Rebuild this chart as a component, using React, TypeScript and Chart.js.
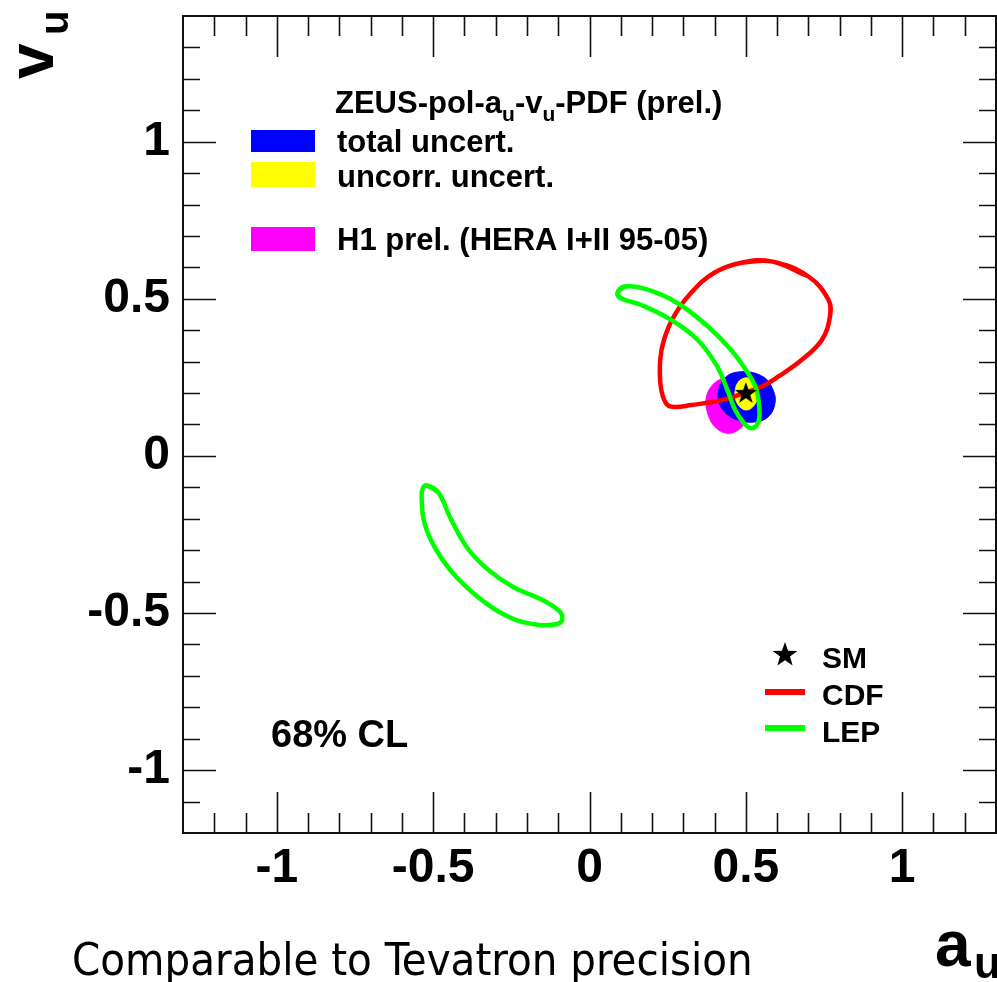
import React, { useEffect, useRef } from "react";
import { Chart, registerables } from "chart.js";

Chart.register(...registerables);

// ---- axes ----
const X_MIN = -1.3;
const X_MAX = 1.3;
const Y_MIN = -1.2;
const Y_MAX = 1.4;
const X_TICKS = [-1, -0.5, 0, 0.5, 1];
const Y_TICKS = [-1, -0.5, 0, 0.5, 1];

// ---- contours (a_u, v_u) ----
const CDF_X = [0.582, 0.7, 0.764, 0.769, 0.743, 0.678, 0.603, 0.55, 0.502, 0.421, 0.325, 0.27, 0.245, 0.228, 0.226, 0.238, 0.27, 0.325, 0.399, 0.486, 0.582];
const CDF_Y = [0.619, 0.571, 0.497, 0.444, 0.369, 0.305, 0.252, 0.22, 0.203, 0.177, 0.162, 0.156, 0.167, 0.22, 0.305, 0.369, 0.444, 0.519, 0.583, 0.615, 0.619];

const LEP1_X = [0.089, 0.111, 0.186, 0.282, 0.379, 0.453, 0.507, 0.534, 0.544, 0.537, 0.516, 0.492, 0.466, 0.441, 0.408, 0.346, 0.261, 0.164, 0.1, 0.089];
const LEP1_Y = [0.518, 0.539, 0.529, 0.486, 0.412, 0.337, 0.263, 0.21, 0.135, 0.101, 0.088, 0.107, 0.146, 0.21, 0.286, 0.369, 0.433, 0.481, 0.502, 0.518];

const LEP2_X = [-0.521, -0.484, -0.446, -0.393, -0.328, -0.243, -0.157, -0.098, -0.087, -0.103, -0.168, -0.243, -0.328, -0.425, -0.489, -0.527, -0.537, -0.533, -0.521];
const LEP2_Y = [-0.094, -0.115, -0.195, -0.29, -0.359, -0.418, -0.455, -0.492, -0.519, -0.535, -0.537, -0.519, -0.471, -0.386, -0.301, -0.216, -0.131, -0.103, -0.094];

const TOTAL_X = [0.411, 0.432, 0.486, 0.555, 0.587, 0.593, 0.571, 0.528, 0.475, 0.432, 0.411];
const TOTAL_Y = [0.188, 0.247, 0.268, 0.252, 0.21, 0.167, 0.124, 0.108, 0.114, 0.14, 0.188];

const H1_X = [0.373, 0.386, 0.415, 0.453, 0.492, 0.511, 0.505, 0.479, 0.44, 0.402, 0.38, 0.373];
const H1_Y = [0.178, 0.216, 0.242, 0.248, 0.226, 0.178, 0.121, 0.085, 0.072, 0.092, 0.13, 0.178];

const UNCORR_X = [0.502, 0.527, 0.539, 0.527, 0.502, 0.476, 0.465, 0.476, 0.502];
const UNCORR_Y = [0.248, 0.235, 0.197, 0.162, 0.146, 0.162, 0.197, 0.235, 0.248];

const SM_X = [0.5];
const SM_Y = [0.2];

const FONT = '"Liberation Sans", Arial, Helvetica, sans-serif';

const pts = (xs: number[], ys: number[]) => xs.map((x, i) => ({ x, y: ys[i] }));
// closed loop (last point == first): wrap one neighbour on each side so the spline is smooth at the joint
const loop = (xs: number[], ys: number[]) => {
  const p = pts(xs, ys);
  const n = p.length;
  return [p[n - 2], ...p, p[1]];
};

function starPath(ctx: CanvasRenderingContext2D, cx: number, cy: number, R: number) {
  const r = R * 0.4;
  ctx.beginPath();
  for (let i = 0; i < 10; i++) {
    const ang = -Math.PI / 2 + (i * Math.PI) / 5;
    const rad = i % 2 === 0 ? R : r;
    const px = cx + rad * Math.cos(ang);
    const py = cy + rad * Math.sin(ang);
    if (i === 0) ctx.moveTo(px, py);
    else ctx.lineTo(px, py);
  }
  ctx.closePath();
}

const decorPlugin = {
  id: "decor",
  afterDraw(chart: any) {
    const { ctx, chartArea: a, scales } = chart;
    const xs = scales.x;
    const ys = scales.y;
    ctx.save();
    // frame
    ctx.strokeStyle = "#111";
    ctx.lineWidth = 2;
    ctx.strokeRect(a.left, a.top, a.right - a.left, a.bottom - a.top);
    ctx.lineWidth = 1.6;
    ctx.beginPath();
    for (let i = Math.round(X_MIN * 10) + 1; i < Math.round(X_MAX * 10); i++) {
      const px = Math.round(xs.getPixelForValue(i / 10)) + 0.5;
      const len = i % 5 === 0 ? 41 : 20;
      ctx.moveTo(px, a.bottom);
      ctx.lineTo(px, a.bottom - len);
      ctx.moveTo(px, a.top);
      ctx.lineTo(px, a.top + len);
    }
    for (let i = Math.round(Y_MIN * 10) + 1; i < Math.round(Y_MAX * 10); i++) {
      const py = Math.round(ys.getPixelForValue(i / 10)) + 0.5;
      const len = i % 5 === 0 ? 33 : 17;
      ctx.moveTo(a.left, py);
      ctx.lineTo(a.left + len, py);
      ctx.moveTo(a.right, py);
      ctx.lineTo(a.right - len, py);
    }
    ctx.stroke();

    ctx.fillStyle = "#000";
    ctx.textAlign = "left";
    ctx.textBaseline = "alphabetic";

    // title with subscripts
    let x = 335;
    const base = 113;
    const parts: [string, boolean][] = [
      ["ZEUS-pol-a", false],
      ["u", true],
      ["-v", false],
      ["u", true],
      ["-PDF (prel.)", false],
    ];
    for (const [t, sub] of parts) {
      ctx.font = sub ? `bold 21px ${FONT}` : `bold 31px ${FONT}`;
      ctx.fillText(t, x, sub ? base + 8 : base);
      x += ctx.measureText(t).width;
    }

    // legend boxes
    ctx.fillStyle = "#0000ff";
    ctx.fillRect(251, 130, 64, 22);
    ctx.fillStyle = "#ffff00";
    ctx.fillRect(251, 162, 64, 25);
    ctx.fillStyle = "#ff00ff";
    ctx.fillRect(251, 227, 64, 24);

    ctx.fillStyle = "#000";
    ctx.font = `bold 31px ${FONT}`;
    ctx.fillText("total uncert.", 337, 152);
    ctx.fillText("uncorr. uncert.", 337, 187);
    ctx.fillText("H1 prel. (HERA I+II 95-05)", 337, 250, 391);

    // 68% CL
    ctx.font = `bold 38px ${FONT}`;
    ctx.fillText("68% CL", 271, 747);

    // lower legend
    starPath(ctx, 785, 655, 13);
    ctx.fill();
    ctx.font = `bold 30px ${FONT}`;
    ctx.fillText("SM", 822, 668);
    ctx.fillText("CDF", 822, 705);
    ctx.fillText("LEP", 822, 742);
    ctx.lineWidth = 6;
    ctx.strokeStyle = "#ff0000";
    ctx.beginPath();
    ctx.moveTo(765, 692);
    ctx.lineTo(805, 692);
    ctx.stroke();
    ctx.strokeStyle = "#00ff00";
    ctx.beginPath();
    ctx.moveTo(765, 728);
    ctx.lineTo(805, 728);
    ctx.stroke();

    // axis titles
    ctx.fillStyle = "#000";
    ctx.font = `bold 64px ${FONT}`;
    ctx.fillText("a", 935, 966);
    ctx.font = `bold 44px ${FONT}`;
    ctx.fillText("u", 974, 978);

    ctx.save();
    ctx.translate(53, 79);
    ctx.rotate(-Math.PI / 2);
    ctx.font = `bold 64px ${FONT}`;
    ctx.fillText("v", 0, 0);
    ctx.font = `bold 40px ${FONT}`;
    ctx.fillText("u", 44, 15);
    ctx.restore();

    // caption
    ctx.font = `45px "DejaVu Sans Condensed", "DejaVu Sans", sans-serif`;
    ctx.fillText("Comparable to Tevatron precision", 72, 975, 721);

    ctx.restore();
  },
};

const noPad = (s: any) => {
  s.paddingTop = 0;
  s.paddingBottom = 0;
  s.paddingLeft = 0;
  s.paddingRight = 0;
};

export default function App() {
  const ref = useRef<HTMLCanvasElement | null>(null);

  useEffect(() => {
    if (!ref.current) return;
    const starImg = document.createElement("canvas");
    starImg.width = 26;
    starImg.height = 26;
    const sctx = starImg.getContext("2d")!;
    sctx.fillStyle = "#000";
    starPath(sctx, 13, 13.5, 11.5);
    sctx.fill();

    const lineDs = (label: string, xs: number[], ys: number[], color: string, order: number) => ({
      label,
      data: loop(xs, ys),
      showLine: true,
      borderColor: color,
      borderWidth: 4.5,
      backgroundColor: color,
      pointRadius: 0,
      fill: false,
      tension: 0.4,
      order,
    });
    const fillDs = (label: string, xs: number[], ys: number[], color: string, order: number) => ({
      label,
      data: loop(xs, ys),
      showLine: true,
      borderColor: color,
      borderWidth: 1,
      backgroundColor: color,
      pointRadius: 0,
      fill: "shape",
      tension: 0.4,
      order,
    });

    const tickFont = { family: FONT, size: 48, weight: "bold" as const };

    const chart = new Chart(ref.current, {
      type: "scatter",
      data: {
        datasets: [
          fillDs("H1 prel.", H1_X, H1_Y, "#ff00ff", 10),
          fillDs("total uncert.", TOTAL_X, TOTAL_Y, "#0000ff", 9),
          fillDs("uncorr. uncert.", UNCORR_X, UNCORR_Y, "#ffff00", 8),
          lineDs("CDF", CDF_X, CDF_Y, "#ff0000", 7),
          lineDs("LEP", LEP1_X, LEP1_Y, "#00ff00", 6),
          lineDs("LEP 2", LEP2_X, LEP2_Y, "#00ff00", 5),
          {
            label: "SM",
            data: pts(SM_X, SM_Y),
            pointStyle: starImg as any,
            pointRadius: 12,
            showLine: false,
            order: 0,
          } as any,
        ],
      },
      options: {
        animation: false,
        responsive: false,
        devicePixelRatio: 1,
        layout: { autoPadding: false, padding: { left: 0, top: 16, right: 1, bottom: 0 } },
        scales: {
          x: {
            type: "linear",
            min: X_MIN,
            max: X_MAX,
            afterBuildTicks: (s: any) => {
              s.ticks = X_TICKS.map((v) => ({ value: v }));
            },
            afterFit: (s: any) => {
              s.height = 149;
              noPad(s);
            },
            grid: { display: false, drawTicks: false },
            border: { display: false },
            ticks: {
              font: tickFont,
              color: "#000",
              padding: 7,
              maxRotation: 0,
              autoSkip: false,
              callback: (v: any) => String(v),
            },
          },
          y: {
            type: "linear",
            min: Y_MIN,
            max: Y_MAX,
            afterBuildTicks: (s: any) => {
              s.ticks = Y_TICKS.map((v) => ({ value: v }));
            },
            afterFit: (s: any) => {
              s.width = 183;
              noPad(s);
            },
            grid: { display: false, drawTicks: false },
            border: { display: false },
            ticks: {
              font: tickFont,
              color: "#000",
              padding: 13,
              autoSkip: false,
              callback: (v: any) => String(v),
            },
          },
        },
        plugins: {
          legend: { display: false },
          tooltip: { enabled: false },
        },
      },
      plugins: [decorPlugin],
    } as any);
    return () => chart.destroy();
  }, []);

  return (
    <div style={{ position: "fixed", left: 0, top: 0, width: 997, height: 982, background: "#fff" }}>
      <canvas ref={ref} width={997} height={982} style={{ display: "block" }} />
    </div>
  );
}
